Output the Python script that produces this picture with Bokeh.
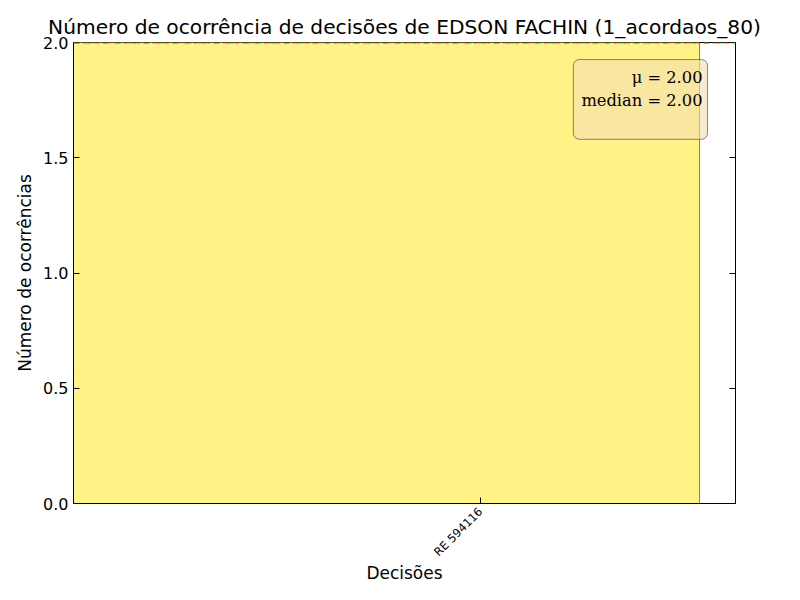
import numpy as np
from bokeh.plotting import figure
from bokeh.models import (LinearAxis, FixedTicker, Range1d, Span, Label,
                          ColumnDataSource)
from bokeh.embed import file_html
from bokeh.resources import INLINE

# ---- data ----
categories = ["RE 594116"]
counts = [2]
title_text = "Número de ocorrência de decisões de EDSON FACHIN (1_acordaos_80)"
y_ticks = [0.0, 0.5, 1.0, 1.5, 2.0]

mean_v = float(np.mean(counts))
median_v = float(np.median(counts))

# ---- styling constants ----
BAR_W = 1.0
TICK_OFF = 0.65
X_MAX = 1.0575

idx = np.arange(len(categories))
src = ColumnDataSource(dict(left=idx, right=idx + BAR_W,
                            bottom=np.zeros(len(counts)), top=counts))

p = figure(width=800, height=600, output_backend="svg", toolbar_location=None,
           x_range=Range1d(0, X_MAX), y_range=Range1d(0, max(y_ticks)),
           min_border_left=73, min_border_right=65, min_border_top=42,
           min_border_bottom=97)
p.title.text = title_text
p.title.align = "center"
p.title.text_font = "DejaVu Sans"
p.title.text_font_size = "20.2px"
p.title.text_font_style = "normal"
p.title.text_color = "black"
p.title.standoff = 7

p.grid.visible = False
p.outline_line_color = "black"
p.outline_line_width = 1
p.background_fill_color = "white"
p.border_fill_color = "white"

p.quad(left="left", right="right", bottom="bottom", top="top", source=src,
       fill_color="#fff385", fill_alpha=1.0, line_color="#8a8450", line_width=1)

p.add_layout(Span(location=mean_v, dimension="width", line_color="red",
                  line_dash="6 4", line_width=1.5))
p.add_layout(Span(location=median_v, dimension="width", line_color="green",
                  line_dash="6 3 2 3", line_width=1.5))

# axes
xt = FixedTicker(ticks=list(idx + TICK_OFF))
p.xaxis.ticker = xt
p.xaxis.major_label_overrides = {float(i + TICK_OFF): c for i, c in zip(idx, categories)}
p.xaxis.major_label_orientation = np.pi / 4
p.xaxis.major_label_text_font_size = "11.5px"
p.xaxis.major_label_text_font = "DejaVu Sans"
p.xaxis.major_label_standoff = 6
p.xaxis.axis_label = "Decisões"
p.yaxis.axis_label = "Número de ocorrências"
p.yaxis.ticker = FixedTicker(ticks=y_ticks)
p.yaxis.major_label_overrides = {t: f"{t:.1f}" for t in y_ticks}
p.yaxis.major_label_text_font_size = "16px"

for ax in [p.xaxis[0], p.yaxis[0]]:
    ax.axis_label_text_font = "DejaVu Sans"
    ax.axis_label_text_font_size = "17px"
    ax.axis_label_text_font_style = "normal"
    ax.axis_label_text_color = "black"
    ax.major_label_text_color = "black"
    ax.major_tick_in = 6
    ax.major_tick_out = 0
    ax.minor_tick_in = 0
    ax.minor_tick_out = 0
    ax.axis_line_color = "black"
    ax.major_tick_line_color = "black"
p.yaxis.major_label_text_font = "DejaVu Sans"
p.yaxis.axis_label_standoff = 5
p.xaxis.axis_label_standoff = -4

rax = LinearAxis(ticker=FixedTicker(ticks=y_ticks), major_tick_in=6, major_tick_out=0,
                 minor_tick_in=0, minor_tick_out=0,
                 major_label_overrides={t: " " for t in y_ticks},
                 major_label_text_font_size="10px",
                 axis_line_color="black", major_tick_line_color="black")
p.add_layout(rax, "right")

lab = Label(x=1.0128, y=1.926, x_units="data", y_units="data",
            text=f"μ = {mean_v:.2f}\nmedian = {median_v:.2f}",
            text_align="right", text_baseline="top",
            text_font="DejaVu Serif", text_font_size="16.3px", text_color="black",
            text_line_height=1.25,
            background_fill_color="#f5deb3", background_fill_alpha=0.6,
            border_line_color="#555555", border_line_alpha=0.7,
            border_radius=6, padding=(8, 5, 8, 29))
p.add_layout(lab)

open("out.html", "w").write(file_html(p, INLINE))
